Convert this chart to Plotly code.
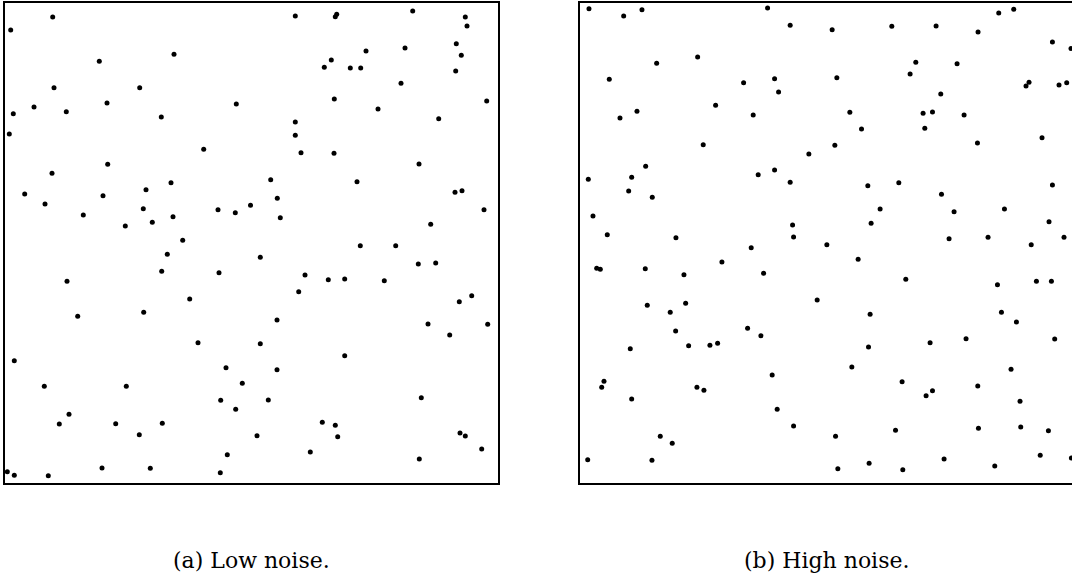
import plotly.graph_objects as go

# Panel (a): low noise -- point positions in panel units (x right, y up)
low_x = [47.7, 5.7, 169, 94.3, 49, 134.7, 102, 231.3, 29, 61.3, 8.3, 156.3, 4.3, 198.7, 102.7,
         47, 166, 141, 19.7, 98, 40, 138.3, 213, 230.3, 245.5, 78.3, 168, 147.3, 120.3, 177.7,
         290.3, 330.3, 331.7, 407.7, 460.3, 462, 451.3, 400, 361, 456.3, 326.3, 319.3, 345.3, 355.7, 450.7,
         396, 329.3, 481.7, 373, 433.7, 290.3, 290.3, 296, 329, 414, 265.7, 352, 450, 457, 272.3,
         479, 275.3, 425.7,
         162.3, 156.7, 214, 62, 184.7, 138.7, 72.7, 193, 9.3, 221, 237.3, 39.3, 121.3, 215.7, 230.7,
         64, 54.3, 110.7, 157.3, 134.3, 222.3, 2.3, 9.3, 43.3, 97, 145.3, 215.3,
         355.3, 390.7, 255.3, 413.3, 430.7, 300, 323.3, 339.7, 379.3, 293.7, 466.7, 454.3, 272, 423, 482.7,
         444.7, 255.3, 339.7, 272, 416.3, 263.3, 317.3, 330.3, 252, 332.7, 455, 460.3, 476.7, 305.3, 414.3]
low_y = [466, 453, 428.7, 421.7, 395.3, 395.3, 380, 379, 376, 371.3, 369.3, 366, 349, 333.7, 318.7,
         309.7, 300.3, 293.3, 289, 287.3, 279, 274.3, 273.3, 270.3, 277.7, 268, 266.3, 260.7, 257, 242.7,
         467, 466.3, 468.7, 472, 466, 457, 439.3, 435, 432, 427.7, 423, 415.7, 415, 415, 412,
         399.7, 384, 382, 374, 364.3, 361, 347.7, 330.3, 329.7, 319, 303.3, 301.3, 290.7, 292.3, 284.7,
         273.3, 265.3, 258.7,
         228.7, 211.7, 210.3, 201.7, 184, 170.7, 166.7, 140.3, 122.3, 115.3, 99.7, 96.7, 96.7, 82.7, 73.7,
         68.7, 59, 59.3, 59.7, 48.3, 28.3, 11.3, 7.7, 7.3, 15, 14.7, 10.3,
         237.3, 237.3, 225.7, 219, 220, 208, 203.3, 204, 202.3, 191.3, 187.3, 181.3, 163, 159, 158.7,
         148, 139.3, 127.3, 113.3, 85.3, 83, 60.7, 57.7, 47.3, 46.3, 50, 47, 34, 31, 24]

# Panel (b): high noise
high_x = [9, 43.7, 62, 187.7, 210.3, 117.7, 76.7, 29.3, 163.7, 194.7, 198.7, 135.7, 57, 40, 173.3,
          123.3, 229, 65.7, 194.7, 178.3, 51.7, 8.3, 210.3, 48.7, 72.3, 13, 212.7, 27.3, 96, 213.7,
          419, 434, 252.3, 312, 356.3, 398.3, 472.7, 491.3, 336, 377.3, 330.3, 257, 449.3, 446.3, 479.3,
          487, 361, 270, 343.3, 352.7, 384.3, 281.7, 345, 255, 397.7, 462.3, 319, 288, 472.7, 361.7,
          300.3, 424.7, 374.3, 291.3, 469.3, 369.3, 408.3, 484.3, 247, 451.5,
          171.3, 142, 16.7, 20.3, 65.3, 104, 183.7, 237.3, 67.3, 105.7, 90.3, 167.7, 181, 95.7, 50.3,
          108.7, 130, 137.7, 192.3, 24, 21.7, 117, 124, 51.7, 197.3, 213.7, 80.3, 92.3, 7.7, 72,
          278.3, 326, 417.7, 456.7, 471.7, 290.3, 421.7, 436.7, 288.7, 350.3, 386.3, 475, 272, 431.3, 322.3,
          346.3, 352.7, 398, 440.3, 255.7, 315.7, 398.7, 441, 468.7, 460.5, 491.7, 258, 289.3, 323, 364.3, 415]
high_y = [474.3, 467, 473.3, 475, 457.7, 426, 419.7, 403.7, 400.3, 404.3, 391, 377.7, 371.7, 365, 368,
          338.3, 329, 316.7, 313, 308.3, 305.7, 303.7, 300.7, 292, 285.7, 267, 258, 248.3, 245.3, 246,
          470, 473.7, 453.3, 456.7, 457, 451, 441, 434.5, 420.7, 419.3, 409, 405.3, 400.7, 397, 398,
          400.3, 389, 370.7, 369.7, 371, 368, 354, 354.7, 337.7, 340, 345.3, 300.3, 297.3, 298, 288.7,
          274, 274, 271.3, 259.7, 261.3, 244.3, 245.7, 245.7, 238.3, 238.3,
          235.3, 221, 214.7, 213.7, 214.3, 208.3, 209.7, 183, 177.7, 179.7, 170.7, 154.7, 147.3, 152, 134.3,
          137.3, 137.7, 139.7, 108, 101.7, 95.7, 95.7, 92.7, 84, 73.7, 57, 46.7, 39.7, 23.3, 22.7,
          223.7, 203.7, 198.3, 201.7, 201.7, 168.7, 170.7, 161, 136, 140.3, 144.3, 144, 116, 113.7, 101.3,
          87.3, 92.3, 97, 81.7, 46.7, 52.7, 54.7, 56, 52.3, 27.7, 25, 14.3, 19.7, 13.3, 24, 17]

captions = ["(a) Low noise.", "(b) High noise."]

W, H = 1072, 581
fig = go.Figure()
marker = dict(size=5, color="#000000")
fig.add_trace(go.Scatter(x=low_x, y=low_y, mode="markers", marker=marker,
                         xaxis="x", yaxis="y", cliponaxis=False, showlegend=False))
fig.add_trace(go.Scatter(x=high_x, y=high_y, mode="markers", marker=marker,
                         xaxis="x2", yaxis="y2", showlegend=False))

ydom = [1 - 483 / H, 1 - 2.7 / H]
common = dict(showgrid=False, zeroline=False, showticklabels=False, ticks="",
              showline=True, linecolor="#000000", linewidth=2)
fig.update_layout(
    width=W, height=H,
    margin=dict(l=0, r=0, t=0, b=0),
    paper_bgcolor="white", plot_bgcolor="white",
    xaxis=dict(domain=[4.7 / W, 498 / W], range=[-0.3, 493], mirror=True, **common),
    yaxis=dict(domain=ydom, range=[0, 480.3], mirror=True, **common),
    xaxis2=dict(domain=[579.7 / W, 1], range=[-0.3, 492.3], mirror=True, anchor="y2", **common),
    yaxis2=dict(domain=ydom, range=[0, 480.3], mirror=False, anchor="x2", **common),
    showlegend=False,
    hovermode=False,
)
centers = [251.3 / W, 826.4 / W]
for c, t in zip(centers, captions):
    fig.add_annotation(x=c, y=1 - 560 / H, xref="paper", yref="paper", text=t,
                       showarrow=False, xanchor="center", yanchor="middle",
                       font=dict(family="DejaVu Serif", size=22, color="#000000"))

fig.write_html("out.html",
               config={"displayModeBar": False, "staticPlot": True},
               post_script="document.body.style.margin='0px';document.body.style.overflow='hidden';")
